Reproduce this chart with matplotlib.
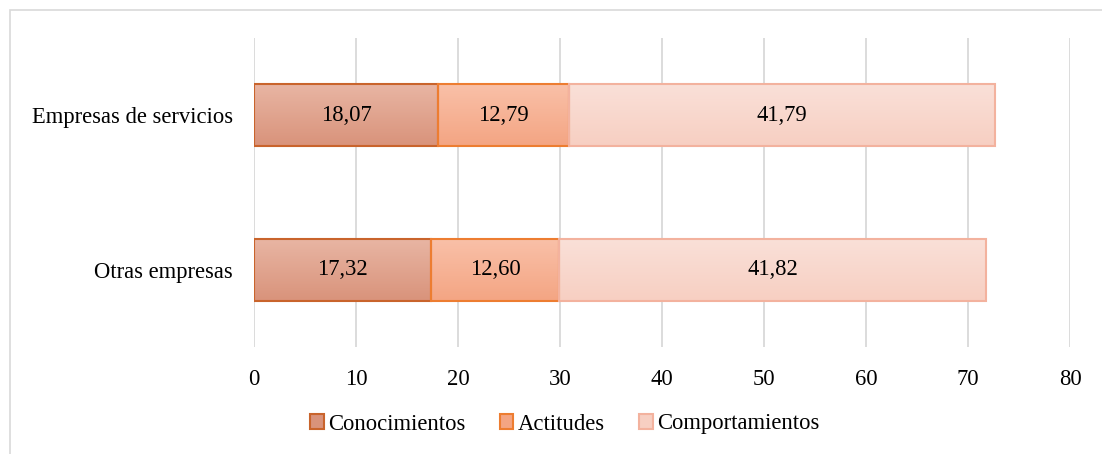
import matplotlib
matplotlib.use("Agg")
import matplotlib.pyplot as plt
import numpy as np
from matplotlib.colors import LinearSegmentedColormap
from matplotlib.patches import Rectangle, Patch

categories = ["Otras empresas", "Empresas de servicios"]
series_names = ["Conocimientos", "Actitudes", "Comportamientos"]
conocimientos = [17.32, 18.07]
actitudes = [12.60, 12.79]
comportamientos = [41.82, 41.79]
xticks = [0, 10, 20, 30, 40, 50, 60, 70, 80]

# (top colour, bottom colour, edge colour) for each series
styles = [
    ("#e8b5a3", "#d9937b", "#c9642c"),
    ("#f9c0a8", "#f4a583", "#ed7d31"),
    ("#fae0d8", "#f7cfc2", "#f3b29e"),
]

plt.rcParams["font.family"] = ["Liberation Serif", "DejaVu Serif"]
FS = 16.3

fig = plt.figure(figsize=(11.02, 4.54), dpi=100)
W, H = 1102, 454

# outer chart frame
fig.patches.append(Rectangle((10 / W, -0.1), 1.2, (454 - 10) / H + 0.1,
                             transform=fig.transFigure, fill=False,
                             edgecolor="#d9d9d9", linewidth=1.2))

ax = fig.add_axes([254 / W, (H - 347) / H, (1070 - 254) / W, (347 - 38) / H])
ax.set_xlim(0, 80)
ax.set_ylim(-0.5, 1.5)
ax.set_xticks(xticks)
ax.set_xticklabels([str(t) for t in xticks], fontsize=FS)
ax.tick_params(axis="x", length=0, pad=16)
ax.set_yticks(range(len(categories)))
ax.set_yticklabels(categories, fontsize=FS)
ax.tick_params(axis="y", length=0, pad=15)
ax.grid(axis="x", color="#d9d9d9", linewidth=1.3)
ax.set_axisbelow(True)
for s in ax.spines.values():
    s.set_visible(False)

data = [conocimientos, actitudes, comportamientos]
bar_h = 0.4
left = np.zeros(len(categories))
for vals, (c_top, c_bot, c_edge) in zip(data, styles):
    vals = np.array(vals)
    bars = ax.barh(range(len(categories)), vals, left=left, height=bar_h,
                   color="none", edgecolor=c_edge, linewidth=1.5, zorder=3)
    cmap = LinearSegmentedColormap.from_list("g", [c_bot, c_top])
    grad = np.linspace(0, 1, 64).reshape(-1, 1)
    for i, b in enumerate(bars):
        x0, y0 = b.get_x(), b.get_y()
        im = ax.imshow(grad, cmap=cmap, aspect="auto", origin="lower",
                       extent=[x0, x0 + b.get_width(), y0, y0 + b.get_height()],
                       zorder=2, interpolation="bilinear")
        im.set_clip_path(b)
        ax.text(x0 + b.get_width() / 2, i, f"{vals[i]:.2f}".replace(".", ","),
                ha="center", va="center", fontsize=FS, zorder=4)
    left = left + vals
ax.set_xlim(0, 80)
ax.set_ylim(-0.5, 1.5)

handles = [Patch(facecolor=s[1], edgecolor=s[2], linewidth=1.5) for s in styles]
fig.legend(handles, series_names, loc="center", bbox_to_anchor=(565 / W, 1 - 424 / H),
           ncol=3, frameon=False, fontsize=FS, handlelength=0.6, handleheight=0.6,
           handletextpad=0.2, columnspacing=1.5)

fig.savefig("out.png", dpi=100)
